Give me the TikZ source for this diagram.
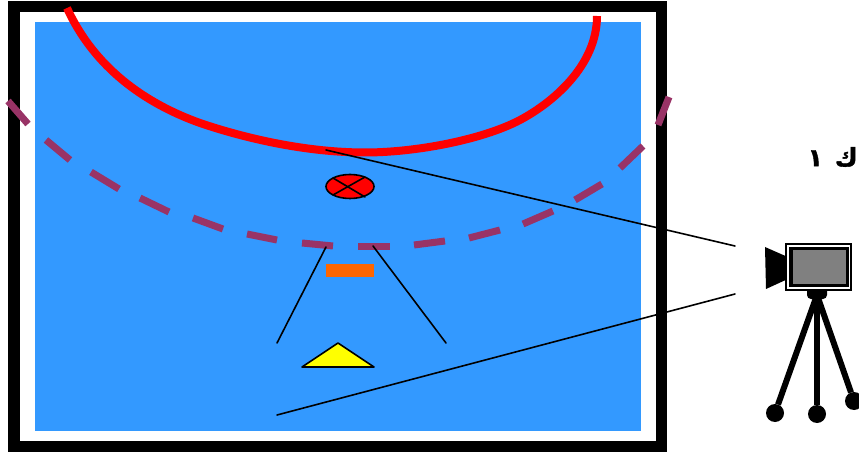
\documentclass[tikz,border=0pt]{standalone}
\usepackage{fontspec}
\newfontfamily\arabicfont[Script=Arabic,FakeBold=1.5]{DejaVu Sans}
\TeXXeTstate=1
\definecolor{pool}{HTML}{3399FF}
\definecolor{plum}{HTML}{993366}
\definecolor{tangerine}{HTML}{FF6600}
\definecolor{lensgrey}{HTML}{808080}
\definecolor{pureyellow}{HTML}{FFFF00}
\tikzset{
  zoneline/.style={draw=plum,line width=7pt,line cap=butt},
  arcline/.style={draw=red,line width=8pt,line cap=butt},
  sight/.style={draw=black,line width=1.6pt,line cap=round},
  outlined/.style={draw=black,line width=1.6pt,line join=round},
  leg/.style={draw=black,line width=6pt},
  foot/.style={circle,fill=black,minimum size=18pt,inner sep=0pt,outer sep=0pt},
  caption/.style={font=\arabicfont\bfseries\fontsize{25pt}{28pt}\selectfont,inner sep=0pt,text=black}
}
\begin{document}
\begin{tikzpicture}[x=1pt,y=-1pt]
\useasboundingbox (0,0) rectangle (859,454);
\clip (0,0) rectangle (859,454);
% frame and field
\fill[black] (8,1) rectangle (667,452);
\fill[white] (20,12) rectangle (656,441);
\fill[pool] (35,22) rectangle (641,431);
% red arc
\draw[arcline] (67,8) .. controls (94,67) and (144,103) .. (200,123)
  .. controls (250,140) and (310,152.5) .. (365,152.5)
  .. controls (415,152.5) and (482,140) .. (520,120)
  .. controls (552,103) and (597,66) .. (597,16);
% dashed zone line
\foreach \ax/\ay/\bx/\by in {
  8/101/28/124, 46/140/70/160, 91/172/119/189, 140/198/169/212,
  193/218/223/229, 247/234/277/240, 302/243/333/246, 358/247/390/247,
  414/245/445/241, 469/238/500/230, 523/224/553/211, 575/200/602/184,
  620/168/643/146, 658/125/669/97}
  \draw[zoneline] (\ax,\ay) -- (\bx,\by);
% ball / target
\filldraw[fill=red,draw=black,line width=1.6pt] (350,186.5) ellipse [x radius=24,y radius=12];
\coordinate (xa) at (333,178); \coordinate (xb) at (365,197);
\coordinate (xc) at (333,195); \coordinate (xd) at (365,177);
\draw[sight] (xa) -- (xb);
\draw[sight] (xc) -- (xd);
% orange bar and yellow triangle
\fill[tangerine] (326,264.5) rectangle (374,277);
\draw[outlined,fill=pureyellow] (302,367) -- (338,343) -- (374,367) -- cycle;
% sight lines
\coordinate (s1) at (326,150); \coordinate (c1) at (735,246);
\coordinate (s2) at (277,415); \coordinate (c2) at (735,294);
\coordinate (p1) at (326,247); \coordinate (p2) at (277,343);
\coordinate (p3) at (373,246); \coordinate (p4) at (446,343);
\draw[sight] (s1) -- (c1);
\draw[sight] (s2) -- (c2);
\draw[sight] (p1) -- (p2);
\draw[sight] (p3) -- (p4);
% camera
\coordinate (head) at (817,295);
\node[foot] (f1) at (775,413) {};
\node[foot] (f2) at (817,414) {};
\node[foot] (f3) at (854,401) {};
\draw[leg] (head) -- (f1);
\draw[leg] (head) -- (f2);
\draw[leg] (head) -- (f3);
\fill[black,rounded corners=4pt] (807,286) rectangle (827,299);
\fill[black] (765,247) -- (790,258) -- (790,278) -- (766,289) -- cycle;
\fill[black] (785,243) rectangle (852,291);
\fill[white] (787,245) rectangle (850,289);
\fill[black] (789,247) rectangle (849,287);
\fill[lensgrey] (793,250) rectangle (846,284);
% caption
\node[caption,anchor=east] (cap) at (858,157) {\beginR ك\hspace{12pt}١\endR};
\end{tikzpicture}
\end{document}
